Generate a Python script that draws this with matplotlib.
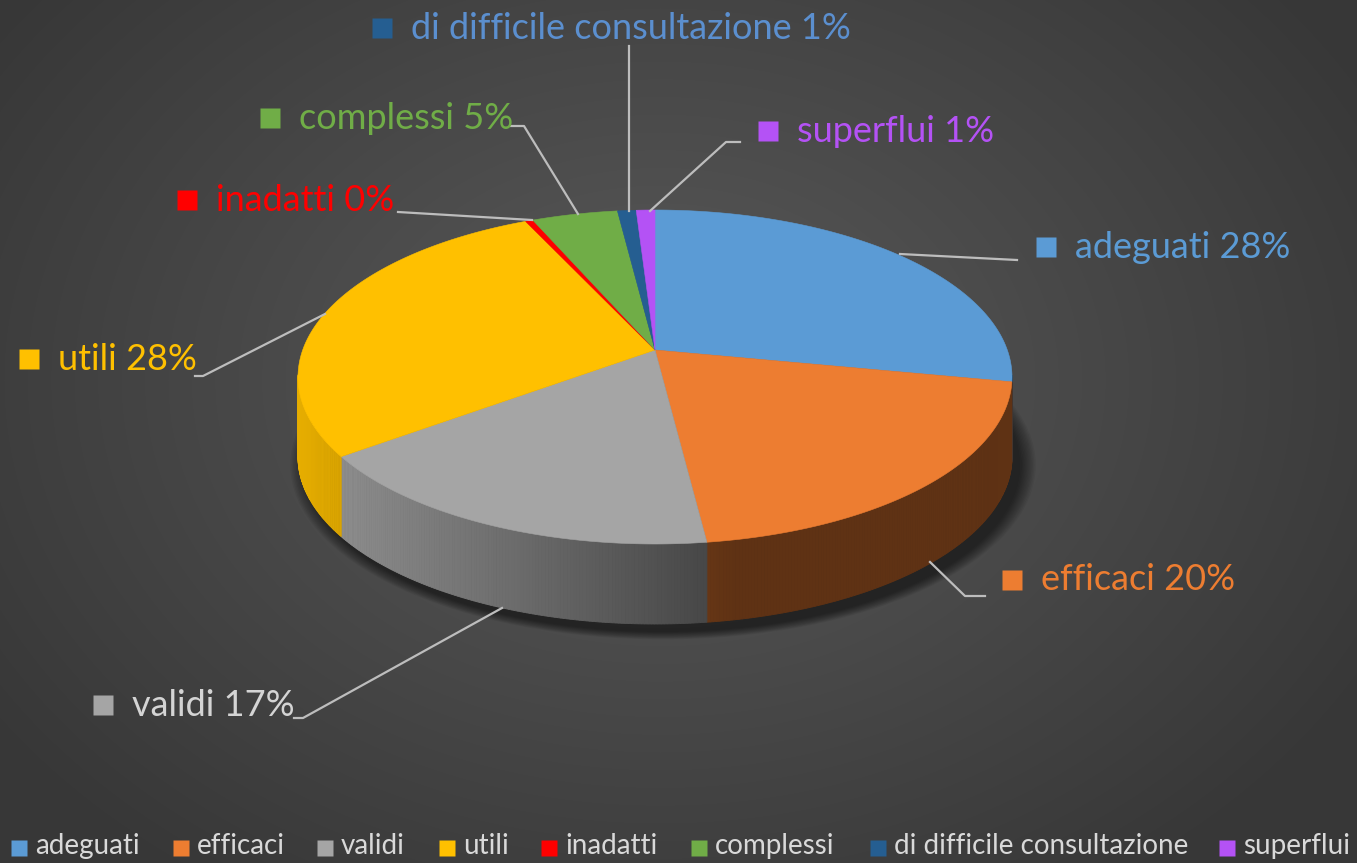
import matplotlib
matplotlib.use("Agg")
import matplotlib.pyplot as plt
import numpy as np
from matplotlib.colors import to_rgb

# data
categories = ["adeguati", "efficaci", "validi", "utili", "inadatti",
              "complessi", "di difficile consultazione", "superflui"]
values = [28, 20, 17, 28, 0.4, 4.6, 1, 1]
pct_labels = ["28%", "20%", "17%", "28%", "0%", "5%", "1%", "1%"]

colors = ["#5b9bd5", "#ed7d31", "#a5a5a5", "#ffc000", "#ff0000",
          "#70ad47", "#255e91", "#b452f5"]
text_colors = ["#5b9bd5", "#ed7d31", "#d4d4d4", "#ffc000", "#ff0000",
               "#70ad47", "#5b8fcf", "#b452f5"]

# layout (pixels)
W, H = 1357, 863
cx, cy, ra, rb = 655, 377, 357, 167
apex = (655, 350)
depth = 80

# label layout: square pos, text x
label_pos = [(1046, 247, 1075), (1012, 580, 1041), (103, 705, 132), (29, 359, 58),
             (187, 200, 216), (270, 118, 299), (382, 28, 411), (768, 131, 797)]
leaders = [
    [(900, 254), (1017, 260)],
    [(930, 562), (965, 596), (985, 596)],
    [(502, 608), (303, 718), (294, 718)],
    [(325, 314), (203, 376), (195, 376)],
    [(398, 212), (532, 220)],
    [(511, 126), (524, 126), (578, 214)],
    [(629, 46), (629, 211)],
    [(740, 142), (726, 142), (650, 211)],
]
legend_x = [19, 181, 325, 447, 549, 699, 878, 1227]

fig = plt.figure(figsize=(W / 100, H / 100), dpi=100)
ax = fig.add_axes([0, 0, 1, 1])
ax.set_xlim(0, W)
ax.set_ylim(H, 0)
ax.axis("off")

# background radial gradient
yy, xx = np.mgrid[0:H, 0:W]
r = np.sqrt(((xx - 660) / 820.0) ** 2 + ((yy - 380) / 620.0) ** 2)
g = (0x5a - (0x5a - 0x37) * np.clip(r, 0, 1)) / 255.0
ax.imshow(np.dstack([g, g, g]), extent=(0, W, H, 0), zorder=0)


def rim(theta):
    # point on the top ellipse along the ray from the apex
    th = np.radians(theta)
    dx, dy = np.sin(th), -np.cos(th) * rb / ra
    u, v = (apex[0] - cx) / ra, (apex[1] - cy) / rb
    du, dv = dx / ra, dy / rb
    A = du ** 2 + dv ** 2
    B = 2 * (u * du + v * dv)
    C = u ** 2 + v ** 2 - 1
    k = (-B + np.sqrt(B ** 2 - 4 * A * C)) / (2 * A)
    return apex[0] + k * dx, apex[1] + k * dy


def shade(x):
    return max(0.40, 0.90 - 0.00115 * (x - 300))


# shadow
for i in range(12):
    s = 1 + i * 0.004
    e = matplotlib.patches.Ellipse((cx + 8, cy + depth + 8), 2 * ra * s, 2 * rb * s,
                                   color="black", alpha=0.05, lw=0, zorder=1)
    ax.add_patch(e)

total = sum(values)
bounds = np.concatenate([[0], np.cumsum(values) / total * 360])

# side walls
for i in range(len(values)):
    th = np.linspace(bounds[i], bounds[i + 1], max(3, int(values[i] * 8)))
    pts = [rim(t) for t in th]
    base = np.array(to_rgb(colors[i]))
    for p0, p1 in zip(pts[:-1], pts[1:]):
        if p0[1] < cy - 1 and p1[1] < cy - 1:
            continue
        xs = [p0[0], p1[0], p1[0], p0[0]]
        ys = [p0[1], p1[1], p1[1] + depth, p0[1] + depth]
        c = base * shade((p0[0] + p1[0]) / 2)
        ax.fill(xs, ys, color=c, lw=0.6, ec=c, zorder=2)

# top faces
for i in range(len(values)):
    th = np.linspace(bounds[i], bounds[i + 1], max(3, int(values[i] * 8)))
    pts = [rim(t) for t in th]
    xs = [apex[0]] + [p[0] for p in pts]
    ys = [apex[1]] + [p[1] for p in pts]
    ax.fill(xs, ys, color=colors[i], lw=0.4, ec=colors[i], zorder=3)

# leader lines and labels
for i in range(len(values)):
    lx, ly = zip(*leaders[i])
    ax.plot(lx, ly, color="#bdbdbd", lw=1.6, zorder=4)
    sx, sy, tx = label_pos[i]
    ax.plot(sx, sy, marker="s", ms=14, color=colors[i], mec="none", zorder=5)
    ax.text(tx, sy, categories[i] + " " + pct_labels[i], color=text_colors[i],
            fontsize=26, family="Lato", va="center", ha="left", zorder=5)

# legend
for i in range(len(values)):
    ax.plot(legend_x[i], 848, marker="s", ms=11, color=colors[i], mec="none", zorder=5)
    ax.text(legend_x[i] + 16, 846, categories[i], color="#d9d9d9", fontsize=20,
            family="Lato", va="center", ha="left", zorder=5)

fig.savefig("out.png", dpi=100)
